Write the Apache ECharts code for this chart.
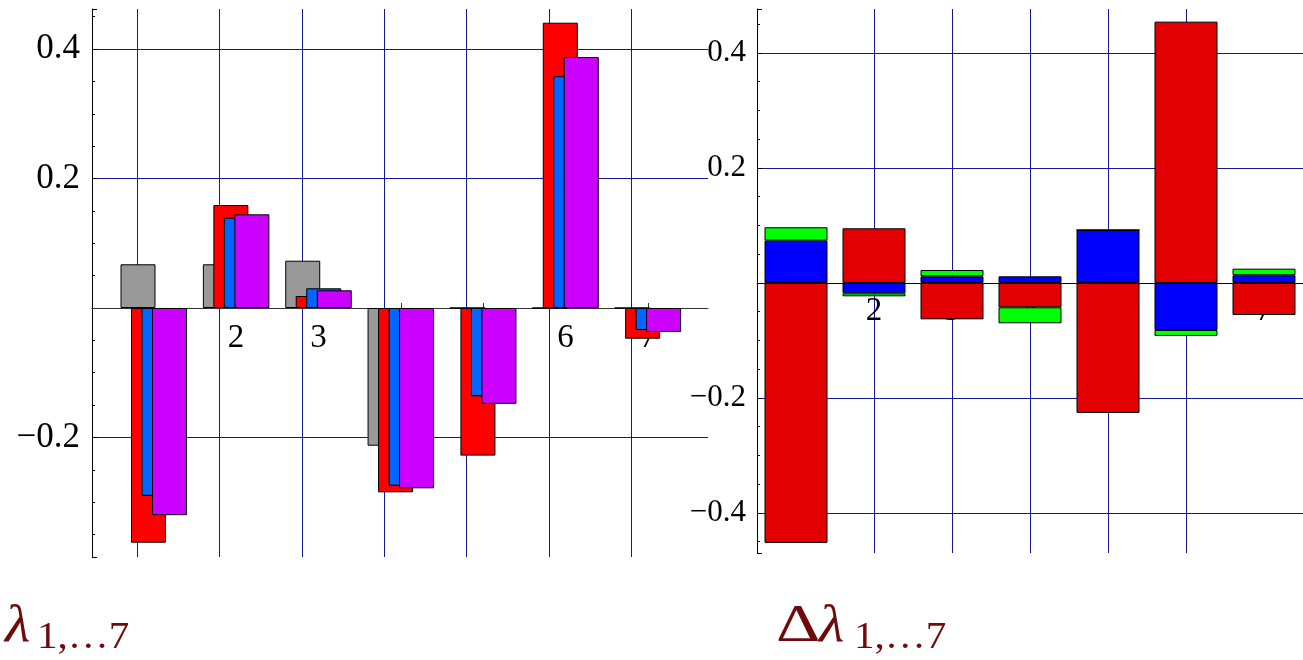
<!DOCTYPE html>
<html>
<head>
<meta charset="utf-8">
<script src="https://cdn.jsdelivr.net/npm/echarts@6/dist/echarts.min.js"></script>
<style>
  html, body { margin: 0; padding: 0; background: #fff; }
  #chart { width: 1303px; height: 660px; }
</style>
</head>
<body>
<div id="chart"></div>
<script>
// Eigenvalue components, one entry per index 1..7
const categories = [1, 2, 3, 4, 5, 6, 7];

// Left panel: lambda_1..7 for four settings
const lambdaGray    = [0.0675, 0.0675, 0.073, -0.2127, 0, 0, 0];
const lambdaRed     = [-0.3625, 0.159, 0.0185, -0.2847, -0.228, 0.4406, -0.0474];
const lambdaBlue    = [-0.29, 0.1395, 0.0304, -0.2744, -0.1364, 0.358, -0.034];
const lambdaMagenta = [-0.32, 0.1447, 0.0273, -0.2785, -0.148, 0.3876, -0.037];

// Right panel: stacked contributions to delta lambda_1..7
const deltaRed   = [-0.452, 0.0951, -0.0632, -0.0423, -0.226, 0.4545, -0.0557];
const deltaBlue  = [0.0736, -0.018, 0.0116, 0.0116, 0.0922, -0.0817, 0.0134];
const deltaGreen = [0.0233, -0.0052, 0.011, -0.0278, 0, -0.0104, 0.0115];

// Axis ranges
const leftYRange  = [-0.3846, 0.4618];
const rightYRange = [-0.4696, 0.4765];

const serif = 'Liberation Serif';
const gridBlue = '#15159a';
const titleColor = '#6e0a0a';

// plot boxes (px)
const leftBox  = { left: 92, top: 9, right: 708, bottom: 557 };
const rightBox = { left: 757, top: 9, right: 1303, bottom: 553 };

// distance from the bottom edge of a box up to its y = 0 line
function zeroOffset(box, range) {
  const h = box.bottom - box.top;
  return -h * (0 - range[0]) / (range[1] - range[0]);
}

function pairs(values) {
  return values.map((v, i) => [categories[i], v]);
}

function yLabel(v) {
  const r = Math.round(v * 10) / 10;
  if (Math.abs(v - r) > 1e-6 || r === 0) return '';
  return r.toFixed(1).replace('-', '\u2212');
}

function xLabel(v) {
  return Math.abs(v - Math.round(v)) < 1e-6 ? String(Math.round(v)) : '';
}

const barBorder = { borderColor: '#000', borderWidth: 1 };

function leftBar(name, color, values) {
  return {
    name, type: 'bar', xAxisIndex: 0, yAxisIndex: 0,
    data: pairs(values),
    barWidth: 35, barGap: '-70%',
    itemStyle: Object.assign({ color }, barBorder)
  };
}

function rightBar(name, color, values) {
  return {
    name, type: 'bar', xAxisIndex: 3, yAxisIndex: 1,
    stack: 'delta', stackStrategy: 'samesign',
    data: values,
    barWidth: 63,
    itemStyle: Object.assign({ color }, barBorder)
  };
}

function yAxis(gridIndex, range, fontSize, margin) {
  return {
    gridIndex, type: 'value', min: range[0], max: range[1], splitNumber: 5,
    axisLine: { show: true, onZero: false, lineStyle: { color: '#000', width: 1 } },
    axisTick: { show: true, inside: true, length: 5, lineStyle: { color: '#000' } },
    minorTick: { show: true, splitNumber: 4, length: 3, lineStyle: { color: '#000' } },
    axisLabel: { formatter: yLabel, margin, fontFamily: serif, fontSize, color: '#000' },
    splitLine: { show: true, showMinLine: false, showMaxLine: false,
                 lineStyle: { color: gridBlue, width: 1 } }
  };
}

function gridOf(box) {
  return { left: box.left, top: box.top, right: 1303 - box.right, bottom: 660 - box.bottom,
           outerBoundsMode: 'none' };
}

const chart = echarts.init(document.getElementById('chart'), null, { renderer: 'canvas' });

chart.setOption({
  animation: false,
  backgroundColor: '#fff',
  grid: [gridOf(leftBox), gridOf(rightBox)],
  xAxis: [
    {
      gridIndex: 0, type: 'value', min: 0.25, max: 7.73, splitNumber: 7, z: 1,
      position: 'bottom', offset: zeroOffset(leftBox, leftYRange),
      axisLine: { onZero: false, lineStyle: { color: '#333', width: 1 } },
      axisTick: { inside: true, length: 5, customValues: categories, lineStyle: { color: '#333' } },
      axisLabel: { formatter: xLabel, margin: 14, fontFamily: serif, fontSize: 33, color: '#000' },
      splitLine: { show: false }
    },
    {
      // vertical grid lines of the left panel
      gridIndex: 0, type: 'value', min: 0.45, max: 7.93, splitNumber: 7, position: 'top',
      axisLine: { show: false, onZero: false }, axisTick: { show: false }, axisLabel: { show: false },
      splitLine: { show: true, showMinLine: false, showMaxLine: false,
                   lineStyle: { color: gridBlue, width: 1 } }
    },
    {
      // right panel: zero line, index labels and vertical grid lines
      gridIndex: 1, type: 'value', min: 0.5, max: 7.5, splitNumber: 7, z: 1,
      position: 'bottom', offset: zeroOffset(rightBox, rightYRange),
      axisLine: { onZero: false, lineStyle: { color: '#000', width: 1 } },
      axisTick: { inside: true, length: 4, customValues: categories, lineStyle: { color: '#000' } },
      axisLabel: { formatter: xLabel, margin: 12, fontFamily: serif, fontSize: 33, color: '#000' },
      splitLine: { show: true, showMinLine: false, showMaxLine: false,
                   lineStyle: { color: gridBlue, width: 1 } }
    },
    {
      // right panel: index slots for the stacked bars
      gridIndex: 1, type: 'category', data: categories, position: 'top',
      axisLine: { show: false, onZero: false }, axisTick: { show: false },
      axisLabel: { show: false }, splitLine: { show: false }
    }
  ],
  yAxis: [
    yAxis(0, leftYRange, 35, 12),
    yAxis(1, rightYRange, 31, 11)
  ],
  series: [
    leftBar('λ gray', '#999999', lambdaGray),
    leftBar('λ red', '#ff0000', lambdaRed),
    leftBar('λ blue', '#0066ff', lambdaBlue),
    leftBar('λ magenta', '#cc00ff', lambdaMagenta),
    rightBar('Δλ red', '#e30000', deltaRed),
    rightBar('Δλ blue', '#0000ff', deltaBlue),
    rightBar('Δλ green', '#00ff00', deltaGreen)
  ],
  graphic: [
    { type: 'text', x: 5, y: 627, scaleX: 1.12, style: { text: '\u03bb', font: 'italic 52px "Liberation Serif"', fill: titleColor, verticalAlign: 'middle' } },
    { type: 'text', x: 37, y: 638, scaleX: 1.08, style: { text: '1,\u20267', font: '38px "Liberation Serif"', fill: titleColor, verticalAlign: 'middle' } },
    { type: 'text', x: 776, y: 627, scaleX: 1.3, style: { text: '\u0394', font: '53px "Liberation Serif"', fill: titleColor, verticalAlign: 'middle' } },
    { type: 'text', x: 819, y: 627, scaleX: 1.12, style: { text: '\u03bb', font: 'italic 52px "Liberation Serif"', fill: titleColor, verticalAlign: 'middle' } },
    { type: 'text', x: 854, y: 638, scaleX: 1.08, style: { text: '1,\u20267', font: '38px "Liberation Serif"', fill: titleColor, verticalAlign: 'middle' } }
  ]
});
</script>
</body>
</html>
